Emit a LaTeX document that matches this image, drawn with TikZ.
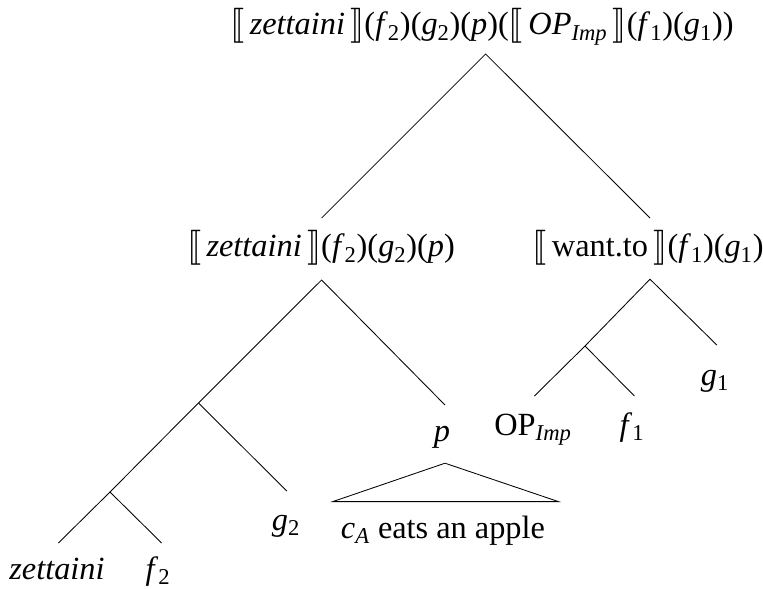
\documentclass[tikz,border=0pt]{standalone}
\usepackage{fontspec}
\usepackage{stmaryrd}
\setmainfont{Liberation Serif}
\newcommand{\den}[1]{$\llbracket$\,#1\,$\rrbracket$}
\newcommand{\vsub}[2]{\textit{#1}\textsubscript{#2}}
\begin{document}
\begin{tikzpicture}[x=1cm,y=1cm,
  lbl/.style={anchor=base, inner sep=0pt, font=\fontsize{23}{28}\selectfont},
  branch/.style={line width=0.6pt}]
\useasboundingbox (0,0) rectangle (19.075,-14.725);
% labels
\node[lbl] (top) at (12.05,-0.875) {\den{\textit{zettaini}}(\vsub{f}{2})(\vsub{g}{2})(\textit{p})(\den{\textit{OP}\textsubscript{\textit{Imp}}}(\vsub{f}{1})(\vsub{g}{1}))};
\node[lbl] (zet) at (8.025,-6.425) {\den{\textit{zettaini}}(\vsub{f}{2})(\vsub{g}{2})(\textit{p})};
\node[lbl] (want) at (16.2,-6.425) {\den{want.to}(\vsub{f}{1})(\vsub{g}{1})};
\node[lbl] (p) at (11.05,-11.04) {\textit{p}};
\node[lbl] (op) at (13.325,-10.875) {OP\textsubscript{\textit{Imp}}};
\node[lbl] (fone) at (15.8,-10.875) {\vsub{f}{1}};
\node[lbl] (gone) at (17.875,-9.625) {\vsub{g}{1}};
\node[lbl] (gtwo) at (7.15,-13.25) {\vsub{g}{2}};
\node[lbl] (zword) at (1.425,-14.48) {\textit{zettaini}};
\node[lbl] (ftwo) at (3.95,-14.48) {\vsub{f}{2}};
\node[lbl] (apple) at (11.075,-13.45) {\textit{c}\textsubscript{\textit{A}} eats an apple};
% branch points
\coordinate (r0) at (12.14,-1.35);
\coordinate (r1) at (8.04,-5.45);
\coordinate (r2) at (16.25,-5.45);
\coordinate (m0) at (8.04,-7.0);
\coordinate (m1) at (4.96,-10.075);
\coordinate (m2) at (2.75,-12.3);
\coordinate (m3) at (1.46,-13.575);
\coordinate (m4) at (4.04,-13.575);
\coordinate (m5) at (7.17,-12.275);
\coordinate (m6) at (11.125,-10.125);
\coordinate (n0) at (16.25,-6.98);
\coordinate (n1) at (14.625,-8.65);
\coordinate (n2) at (13.36,-9.9);
\coordinate (n3) at (15.86,-9.9);
\coordinate (n4) at (17.92,-8.625);
\coordinate (t0) at (11.125,-11.58);
\coordinate (t1) at (8.32,-12.54);
\coordinate (t2) at (13.96,-12.54);
% tree
\draw[branch] (r1) -- (r0) -- (r2);
\draw[branch] (m6) -- (m0) -- (m1) -- (m2) -- (m3);
\draw[branch] (m1) -- (m5);
\draw[branch] (m2) -- (m4);
\draw[branch] (n4) -- (n0) -- (n1) -- (n2);
\draw[branch] (n1) -- (n3);
\draw[branch] (t0) -- (t1) -- (t2) -- cycle;
\end{tikzpicture}
\end{document}
